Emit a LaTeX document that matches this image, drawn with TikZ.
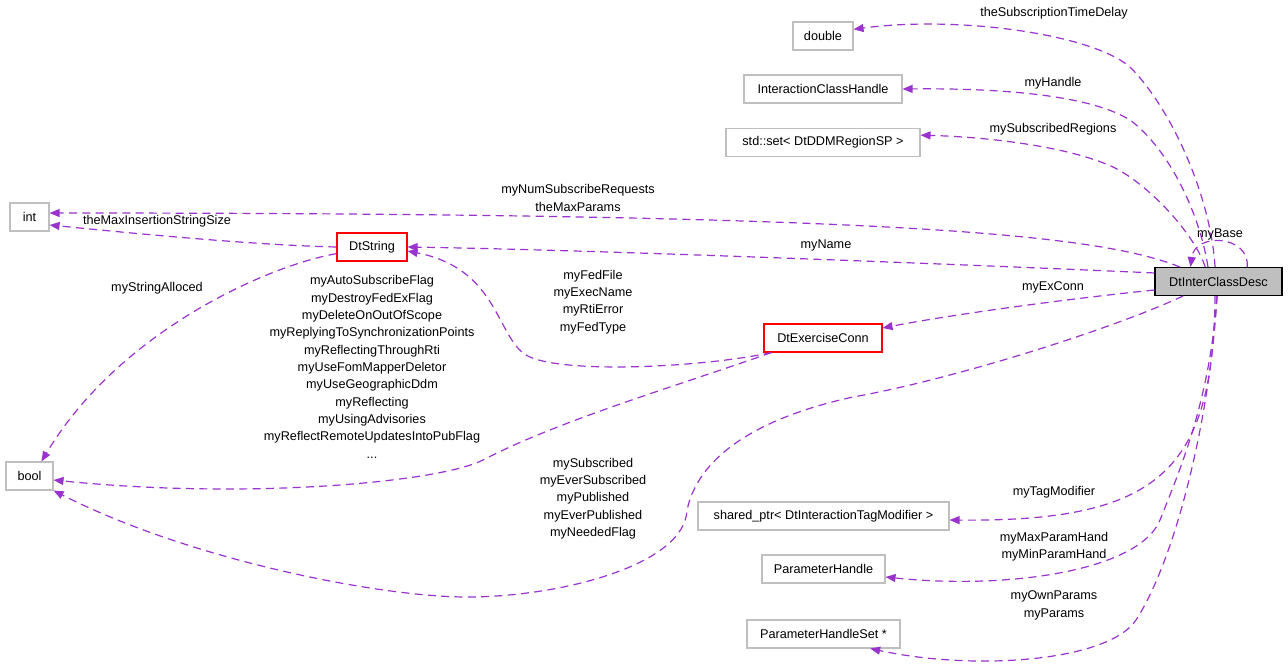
\documentclass[tikz,border=0pt]{standalone}
\usepackage{fontspec}
\setmainfont{Liberation Sans}
\usetikzlibrary{arrows.meta}
\definecolor{edgepurple}{HTML}{9A32CD}
\definecolor{boxgrey}{HTML}{BFBFBF}

\begin{document}
\begin{tikzpicture}[x=0.75pt,y=-0.75pt,
    font=\fontsize{9.5pt}{13pt}\selectfont,
    cls/.style={draw=boxgrey,line width=0.8pt,minimum height=21pt,inner sep=1pt},
    redcls/.style={cls,draw=red},
    member/.style={draw=edgepurple,line width=0.9pt,dash pattern=on 6pt off 4pt,
      -{Triangle[length=7.5pt,width=6pt]}},
    lbl/.style={align=center,inner sep=0pt}]
  \useasboundingbox (0,0) rectangle (1288,671);
  \node[cls,minimum width=45pt] (double) at (823,36) {double};
  \node[cls,minimum width=118.5pt] (ich) at (823,89) {InteractionClassHandle};
  \node[cls,minimum width=145.5pt] (regset) at (823,142.5) {std::set< DtDDMRegionSP >};
  \node[cls,minimum width=29.25pt] (int) at (29.5,217) {int};
  \node[redcls,minimum width=52.5pt] (dtstring) at (372,247) {DtString};
  \node[cls,draw=black,fill=boxgrey,minimum width=95.25pt] (desc) at (1218.5,281.5) {DtInterClassDesc};
  \node[redcls,minimum width=88.5pt] (exconn) at (823,338) {DtExerciseConn};
  \node[cls,minimum width=35.25pt] (bool) at (29.5,476) {bool};
  \node[cls,minimum width=188.25pt] (tagmod) at (823.5,516) {shared\_ptr< DtInteractionTagModifier >};
  \node[cls,minimum width=92.25pt] (parhand) at (823.5,569) {ParameterHandle};
  \node[cls,minimum width=114.75pt] (parset) at (823.5,634) {ParameterHandleSet *};

  \draw[member] ([xshift=-2.6pt]desc.north) .. controls (1211,200) and (1175,115) .. (1133,70)
    .. controls (1100,35) and (960,15) .. ([yshift=5pt]double.east);
  \draw[member] ([xshift=-7.9pt]desc.north) .. controls (1200,215) and (1170,150) .. (1130,120)
    .. controls (1090,95) and (1000,88) .. (ich.east);
  \draw[member] ([xshift=-10pt]desc.north) .. controls (1195,235) and (1150,185) .. (1113,167)
    .. controls (1070,147) and (990,137) .. ([yshift=5.5pt]regset.east);
  \draw[member] ([xshift=-29pt]desc.north) .. controls (1100,235) and (900,213) .. ([yshift=3pt]int.east);
  \draw[member] ([yshift=6.4pt]desc.west) .. controls (1000,266) and (600,250) .. (dtstring.east);
  \draw[member] ([xshift=21.5pt]desc.north) .. controls (1250,235) and (1195,232) .. ([xshift=-21pt]desc.north);
  \draw[member] ([yshift=-6.4pt]desc.west) .. controls (1084,297) and (960,313) .. ([yshift=7.5pt]exconn.east);
  \draw[member] ([xshift=-26.6pt]desc.south) .. controls (1110,330) and (950,380) .. (853,397)
    .. controls (770,415) and (700,450) .. (687,510)
    .. controls (685,565) and (560,597) .. (467,597)
    .. controls (380,597) and (190,560) .. (bool.south east);
  \draw[member] ([xshift=-2.6pt]desc.south) .. controls (1213,470) and (1160,522) .. ([yshift=-3pt]tagmod.east);
  \draw[member] ([xshift=-1.1pt]desc.south) .. controls (1210,400) and (1180,470) .. (1160,520)
    .. controls (1140,570) and (1010,590) .. ([yshift=-6pt]parhand.east);
  \draw[member] ([xshift=-1.1pt]desc.south) .. controls (1210,420) and (1175,560) .. (1136,620)
    .. controls (1110,660) and (980,672) .. ([xshift=35pt]parset.south);
  \draw[member] ([xshift=6pt]exconn.south west) .. controls (700,368) and (550,375) .. (523,353)
    .. controls (496,331) and (495,268) .. ([yshift=-3pt]dtstring.east);
  \draw[member] ([xshift=6pt]exconn.south west) .. controls (680,385) and (560,420) .. (483,460)
    .. controls (440,482) and (250,500) .. ([yshift=-3pt]bool.east);
  \draw[member] (dtstring.west) .. controls (250,245) and (120,232) .. ([yshift=-6pt]int.east);
  \draw[member] ([yshift=-5pt]dtstring.west) .. controls (270,265) and (120,330) .. ([xshift=9pt]bool.north);

  \node[lbl] (ltime) at (1054,13) {theSubscriptionTimeDelay};
  \node[lbl] (lhandle) at (1053,83) {myHandle};
  \node[lbl] (lregions) at (1053,129) {mySubscribedRegions};
  \node[lbl] (lcount) at (578,198) {myNumSubscribeRequests\\theMaxParams};
  \node[lbl] (lsize) at (157,221) {theMaxInsertionStringSize};
  \node[lbl] (lname) at (826,245) {myName};
  \node[lbl] (lbase) at (1220,234) {myBase};
  \node[lbl] (lalloc) at (157,288) {myStringAlloced};
  \node[lbl] (lfed) at (593,302) {myFedFile\\myExecName\\myRtiError\\myFedType};
  \node[lbl] (lconn) at (1053,287) {myExConn};
  \node[lbl] (lflags) at (372,367) {myAutoSubscribeFlag\\myDestroyFedExFlag\\myDeleteOnOutOfScope\\
    myReplyingToSynchronizationPoints\\myReflectingThroughRti\\myUseFomMapperDeletor\\
    myUseGeographicDdm\\myReflecting\\myUsingAdvisories\\myReflectRemoteUpdatesIntoPubFlag\\...};
  \node[lbl] (lsub) at (593,498.5) {mySubscribed\\myEverSubscribed\\myPublished\\myEverPublished\\myNeededFlag};
  \node[lbl] (ltag) at (1054,492) {myTagModifier};
  \node[lbl] (lparam) at (1054,546.5) {myMaxParamHand\\myMinParamHand};
  \node[lbl] (lown) at (1054,605.5) {myOwnParams\\myParams};
\end{tikzpicture}
\end{document}
